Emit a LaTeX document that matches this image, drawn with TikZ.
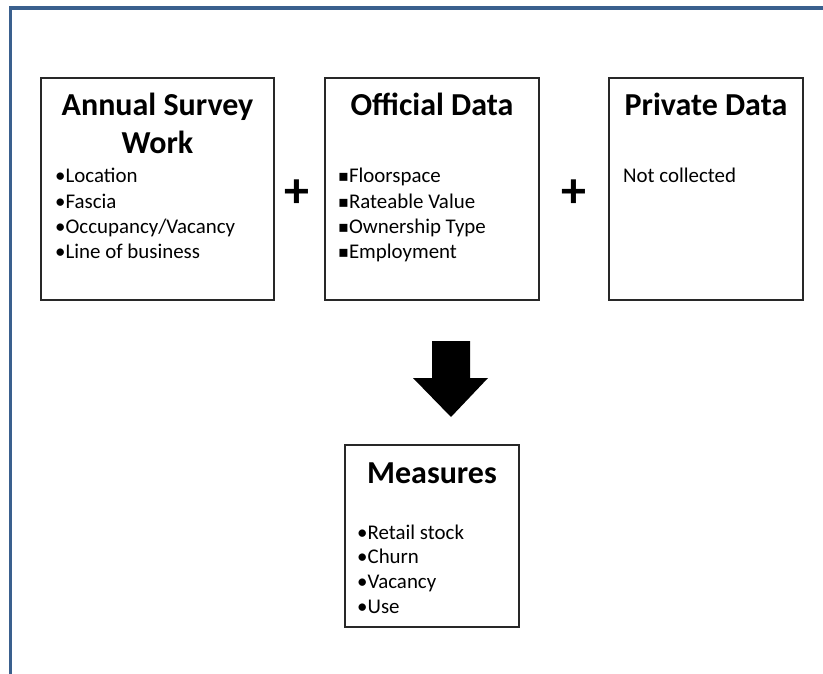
\documentclass[tikz,border=0pt]{standalone}
\usepackage{fontspec}
\setmainfont{Carlito}
\newfontfamily\symfont{DejaVu Sans}
\usepackage{tikz}
\usetikzlibrary{positioning,calc}
\definecolor{framecol}{RGB}{58,96,142}
\definecolor{boxline}{RGB}{40,40,40}
\tikzstyle{box}   =[draw=boxline, line width=1.4pt, inner sep=0pt,
                    outer sep=0pt]
\tikzstyle{title} =[inner sep=0pt, anchor=base,
                    font=\fontsize{32}{38}\selectfont\bfseries]
\tikzstyle{item}  =[inner sep=0pt, anchor=base west,
                    font=\fontsize{20.9}{25}\selectfont]
\tikzstyle{plus}  =[inner sep=0pt, font=\fontsize{50}{50}\selectfont\bfseries]

\begin{document}
\begin{tikzpicture}[x=1pt, y=-1pt]
    \useasboundingbox (0,0) rectangle (823,674);
    % frame
    \draw[framecol, line width=3.6pt] (10.5,674) -- (10.5,7.8) -- (823,7.8);

    % boxes
    \node[box, minimum width=233pt, minimum height=222pt] (survey)  at (157.5,189) {};
    \node[box, minimum width=214pt, minimum height=222pt] (official) at (432,189) {};
    \node[box, minimum width=194pt, minimum height=222pt] (private) at (706,189) {};
    \node[box, minimum width=174pt, minimum height=182pt] (measures) at (432,536) {};

    % titles
    \node[title] (survey-t1) at (157.5,116) {Annual Survey};
    \node[title] (survey-t2) at (157.5,154) {Work};
    \node[title] (official-t) at (432,116) {Official Data};
    \node[title] (private-t) at (706,116) {Private Data};
    \node[title] (measures-t) at (432,483) {Measures};

    % lists
    \foreach \t [count=\i] in {Location, Fascia, Occupancy/Vacancy, Line of business}
        \node[item] (survey-\i) at (55,{183+25.3*(\i-1)}) {•\t};
    \foreach \t [count=\i] in {Floorspace, Rateable Value, Ownership Type, Employment}
        \node[item] (official-\i) at (338,{183+25.3*(\i-1)}) {{\symfont\fontsize{16}{16}\selectfont\raisebox{1pt}{▪}}\t};
    \node[item] (private-1) at (623,183) {Not collected};
    \foreach \t [count=\i] in {Retail stock, Churn, Vacancy, Use}
        \node[item] (measures-\i) at (357,{539+24.7*(\i-1)}) {•\t};

    % plus signs
    \node[plus] (plus1) at (297,194) {+};
    \node[plus] (plus2) at (574,194) {+};

    % block arrow
    \fill[black] (432,341) -- (470,341) -- (470,378) -- (488,378) -- (451,417)
        -- (413,378) -- (432,378) -- cycle;
\end{tikzpicture}
\end{document}
